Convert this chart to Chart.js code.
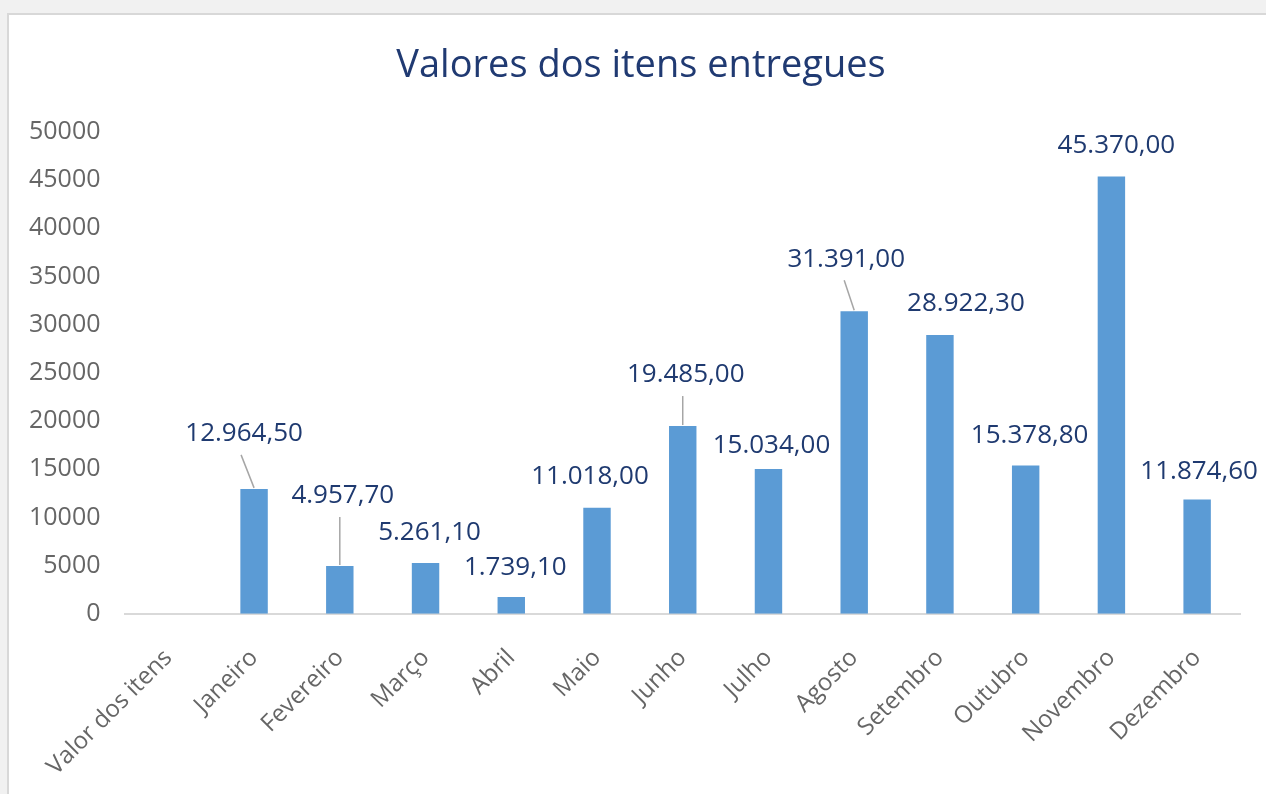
<!DOCTYPE html>
<html>
<head>
<meta charset="utf-8">
<script src="https://cdn.jsdelivr.net/npm/chart.js@4/dist/chart.umd.min.js"></script>
<style>
    body { margin: 0; background: #f1f1f1; overflow: hidden; }
    #card {
        position: absolute; left: 7px; top: 13px; width: 1280px; height: 800px;
        background: #fff; border: 2px solid #d8d8d8;
    }
    #wrap { position: absolute; left: 0; top: 0; width: 1266px; height: 794px; }
</style>
</head>
<body>
<div id="card"></div>
<div id="wrap"><canvas id="valuesChart"></canvas></div>
<script>
const chartTitle = 'Valores dos itens entregues';
const categories = ['Valor dos itens', 'Janeiro', 'Fevereiro', 'Março', 'Abril', 'Maio', 'Junho',
    'Julho', 'Agosto', 'Setembro', 'Outubro', 'Novembro', 'Dezembro'];
const values = [null, 12964.5, 4957.7, 5261.1, 1739.1, 11018, 19485,
    15034, 31391, 28922.3, 15378.8, 45370, 11874.6];

// Where each value label sits relative to the top of its bar (px), and leader lines
const labelOffsets = [null, [-10, -55], [3, -70], [4, -31], [4, -29], [-7, -31], [3, -51],
    [3, -23], [-8, -52], [26, -32], [4, -30], [5, -31], [2, -28]];
const leaderStartX = [null, -13, 0, null, null, null, 0, null, -10, null, null, null, null];

const FONT = "'Open Sans', sans-serif";
const LABEL_COLOR = '#1f3a70';

// Format number as pt-BR with two decimals
function formatValue( v ) {
    return v.toLocaleString('pt-BR', { minimumFractionDigits: 2, maximumFractionDigits: 2 });
}

// Draw the chart title (offset a bit right of the canvas centre, like the original)
const titleDraw = {
    id: 'titleDraw',
    afterDraw( chart ) {
        const ctx = chart.ctx;
        ctx.save();
        ctx.font = '38px ' + FONT;
        ctx.fillStyle = '#203a72';
        ctx.textAlign = 'center';
        ctx.textBaseline = 'middle';
        ctx.fillText(chartTitle, 641, 66);
        ctx.restore();
    }
};

// Draw value labels with leader lines above bars
const valueLabels = {
    id: 'valueLabels',
    afterDatasetsDraw( chart ) {
        const ctx = chart.ctx;
        const meta = chart.getDatasetMeta(0);
        ctx.save();
        meta.data.forEach((bar, i) => {
            if (values[i] == null) return;
            const [dx, dy] = labelOffsets[i];
            const lx = bar.x + dx;
            const ly = bar.y + dy;
            if (leaderStartX[i] != null) {
                ctx.strokeStyle = '#a6a6a6';
                ctx.lineWidth = 1.5;
                ctx.beginPath();
                ctx.moveTo(bar.x + leaderStartX[i], ly + 21);
                ctx.lineTo(bar.x, bar.y - 1);
                ctx.stroke();
            }
            ctx.font = '26px ' + FONT;
            ctx.fillStyle = LABEL_COLOR;
            ctx.textAlign = 'center';
            ctx.textBaseline = 'middle';
            ctx.fillText(formatValue(values[i]), lx, ly);
        });
        ctx.restore();
    }
};

const ctx = document.getElementById('valuesChart').getContext('2d');
const valuesChart = new Chart(ctx, {
    type: 'bar',
    data: {
        labels: categories,
        datasets: [{
            data: values,
            backgroundColor: '#5b9bd5',
            categoryPercentage: 1,
            barPercentage: 0.32,
        }],
    },
    options: {
        responsive: true,
        maintainAspectRatio: false,
        animation: false,
        layout: { padding: { left: 4, right: 26, top: 132, bottom: -17 } },
        plugins: {
            legend: { display: false },
            tooltip: { enabled: false },
            title: { display: false },
        },
        scales: {
            x: {
                grid: { display: false, drawTicks: false },
                border: { color: '#d9d9d9', width: 2 },
                ticks: {
                    color: '#666666',
                    font: { family: FONT, size: 24 },
                    minRotation: 45,
                    maxRotation: 45,
                    padding: 30,
                },
            },
            y: {
                min: 0,
                max: 50000,
                grid: { display: false, drawTicks: false },
                border: { display: false },
                ticks: {
                    stepSize: 5000,
                    color: '#666666',
                    font: { family: FONT, size: 25 },
                    padding: 25,
                    callback: (v) => String(v),
                },
            },
        },
    },
    plugins: [valueLabels, titleDraw],
});
</script>
</body>
</html>
